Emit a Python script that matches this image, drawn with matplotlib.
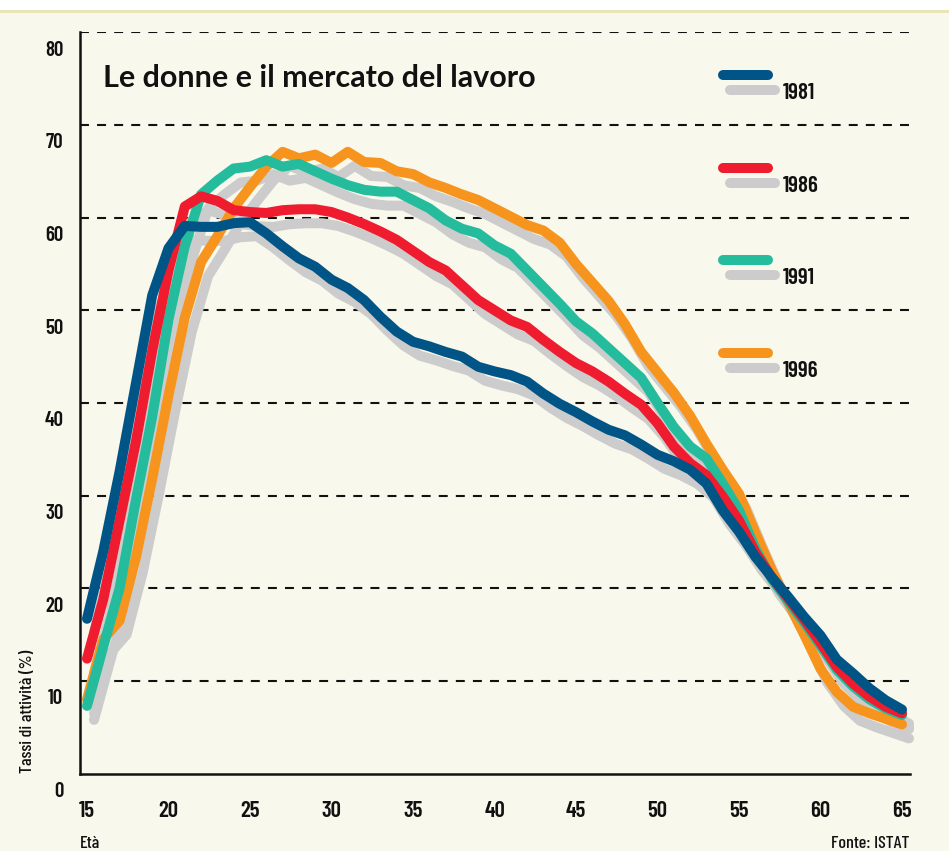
import matplotlib
matplotlib.use("Agg")
import matplotlib.pyplot as plt
import matplotlib.transforms as mtransforms
from matplotlib.patches import Rectangle

# ---------------- data ----------------
ages = list(range(15, 66))

years = ["1981", "1986", "1991", "1996"]

rate_1981 = [16.7, 24.0, 32.6, 42.1, 51.6, 56.7, 59.1, 59.0, 59.0, 59.4,
             59.5, 58.3, 56.9, 55.6, 54.7, 53.3, 52.4, 51.1, 49.3, 47.7,
             46.6, 46.1, 45.5, 45.0, 43.9, 43.4, 43.0, 42.3, 41.0, 39.9,
             39.0, 38.0, 37.1, 36.5, 35.5, 34.4, 33.7, 32.8, 31.3, 28.4,
             26.1, 23.4, 21.2, 19.1, 16.9, 14.9, 12.3, 10.8, 9.2, 7.9, 6.9]

rate_1986 = [12.4, 18.8, 27.3, 35.8, 45.6, 54.3, 61.2, 62.3, 61.8, 60.8,
             60.6, 60.5, 60.8, 60.9, 60.9, 60.6, 60.0, 59.3, 58.5, 57.6,
             56.4, 55.2, 54.3, 52.7, 51.1, 50.0, 48.9, 48.2, 46.8, 45.5,
             44.3, 43.4, 42.3, 41.0, 39.8, 37.8, 35.3, 33.5, 32.2, 29.9,
             27.3, 23.9, 21.2, 18.9, 16.6, 14.1, 11.5, 9.7, 8.3, 7.2, 6.5]

rate_1991 = [7.3, 13.7, 20.0, 29.5, 38.5, 49.0, 56.9, 62.5, 64.0, 65.3,
             65.5, 66.2, 65.5, 65.8, 65.0, 64.2, 63.5, 63.0, 62.8, 62.8,
             61.9, 61.0, 59.7, 58.8, 58.3, 57.0, 56.1, 54.3, 52.5, 50.7,
             48.8, 47.5, 45.9, 44.3, 42.7, 40.0, 37.4, 35.3, 34.0, 31.3,
             28.4, 24.3, 21.0, 18.6, 16.3, 13.8, 11.2, 9.4, 8.0, 7.0, 6.3]

rate_1996 = [8.0, 14.5, 16.5, 23.3, 31.8, 40.8, 49.2, 55.2, 58.0, 61.0,
             63.3, 65.5, 67.1, 66.4, 66.8, 65.9, 67.1, 66.0, 65.9, 65.0,
             64.7, 63.8, 63.2, 62.5, 61.9, 61.0, 60.1, 59.2, 58.6, 57.3,
             55.0, 53.0, 51.0, 48.5, 45.5, 43.3, 41.1, 38.6, 35.6, 32.8,
             30.2, 26.0, 22.0, 18.5, 15.0, 11.3, 8.8, 7.2, 6.5, 5.9, 5.3]

series = [rate_1981, rate_1986, rate_1991, rate_1996]
colors = ["#005486", "#ee1c2e", "#24bc9c", "#f7941e"]

x_ticks = [15, 20, 25, 30, 35, 40, 45, 50, 55, 60, 65]
y_ticks = [0, 10, 20, 30, 40, 50, 60, 70, 80]

# ---------------- style ----------------
BG = "#f8f8ec"
SHADOW = "#cccccc"
NARROW = ["Barlow Condensed", "DejaVu Sans"]
LW = 7.2

fig = plt.figure(figsize=(9.49, 8.51), dpi=100)
fig.patch.set_facecolor(BG)
# white strip and thin khaki rule at the very top
fig.patches.append(Rectangle((0, 1 - 10 / 851), 1, 10 / 851, transform=fig.transFigure,
                             facecolor="white", edgecolor="none", zorder=0))
fig.patches.append(Rectangle((0, 1 - 13 / 851), 1, 3 / 851, transform=fig.transFigure,
                             facecolor="#e9e5b8", edgecolor="none", zorder=0))

ax = fig.add_axes([80 / 949, 77.5 / 851, 830 / 949, 741.2 / 851])
ax.set_facecolor(BG)
ax.set_xlim(14.571, 65.49)
ax.set_ylim(0, 80)

# dashed grid
for v in y_ticks[1:]:
    ax.axhline(v, color="#111111", lw=1.5, dashes=(4.3, 3.9), zorder=1)

# shadows
shadow_tr = mtransforms.offset_copy(ax.transData, fig=fig, x=7, y=-14, units="dots")
for vals in series:
    ax.plot(ages, vals, color=SHADOW, lw=LW, solid_capstyle="round",
            solid_joinstyle="round", transform=shadow_tr, zorder=2, clip_on=False)

# coloured lines (1996 bottom, 1981 top)
for vals, c, z in zip(series, colors, [6, 5, 4, 3]):
    ax.plot(ages, vals, color=c, lw=LW, solid_capstyle="round",
            solid_joinstyle="round", zorder=z, clip_on=False)

# spines
for s in ["top", "right"]:
    ax.spines[s].set_visible(False)
for s in ["left", "bottom"]:
    ax.spines[s].set_linewidth(1.8)
    ax.spines[s].set_color("#111111")

ax.set_xticks(x_ticks)
ax.set_xticklabels([str(t) for t in x_ticks], family=NARROW, fontsize=16.5,
                   fontweight=600, color="#111111")
ax.set_yticks(y_ticks)
ax.set_yticklabels([str(t) for t in y_ticks], family=NARROW, fontsize=15,
                   fontweight=600, color="#111111")
ax.tick_params(axis="x", length=0, pad=20)
ax.tick_params(axis="y", length=0, pad=12)
shift = mtransforms.ScaledTranslation(0, -16 / 100, fig.dpi_scale_trans)
for lab in ax.get_yticklabels():
    lab.set_transform(lab.get_transform() + shift)

# title
ax.text(0.0277, 0.938, "Le donne e il mercato del lavoro", transform=ax.transAxes,
        fontsize=22, fontweight="bold", family=["Lato", "DejaVu Sans"],
        ha="left", va="center", color="#111111")

# legend (custom: coloured bar + grey shadow + year label)
leg_shadow = mtransforms.offset_copy(ax.transAxes, fig=fig, x=7, y=-15, units="dots")
leg_text = mtransforms.offset_copy(ax.transAxes, fig=fig, x=15, y=-18, units="dots")
for i, (yr, c) in enumerate(zip(years, colors)):
    yy = 0.9424 - 0.125 * i
    ax.plot([0.7747, 0.8289], [yy, yy], color=SHADOW, lw=LW, solid_capstyle="round",
            transform=leg_shadow, clip_on=False, zorder=7)
    ax.plot([0.7747, 0.8289], [yy, yy], color=c, lw=LW, solid_capstyle="round",
            transform=ax.transAxes, clip_on=False, zorder=8)
    ax.text(0.8289, yy, yr, transform=leg_text, family=NARROW, fontsize=16.5,
            fontweight=600, ha="left", va="center", color="#111111", zorder=9)

# side texts
fig.text(27 / 949, 1 - 773 / 851, "Tassi di attività (%)", rotation=90,
         ha="center", va="bottom", family=NARROW, fontsize=13, fontweight=500,
         color="#111111")
fig.text(80 / 949, 1 - 843 / 851, "Età", ha="left", va="center",
         family=NARROW, fontsize=13, fontweight=500, color="#111111")
fig.text(909 / 949, 1 - 843 / 851, "Fonte: ISTAT", ha="right", va="center",
         family=NARROW, fontsize=13, fontweight=500, color="#111111")

fig.savefig("out.png", dpi=100, facecolor=fig.get_facecolor())
